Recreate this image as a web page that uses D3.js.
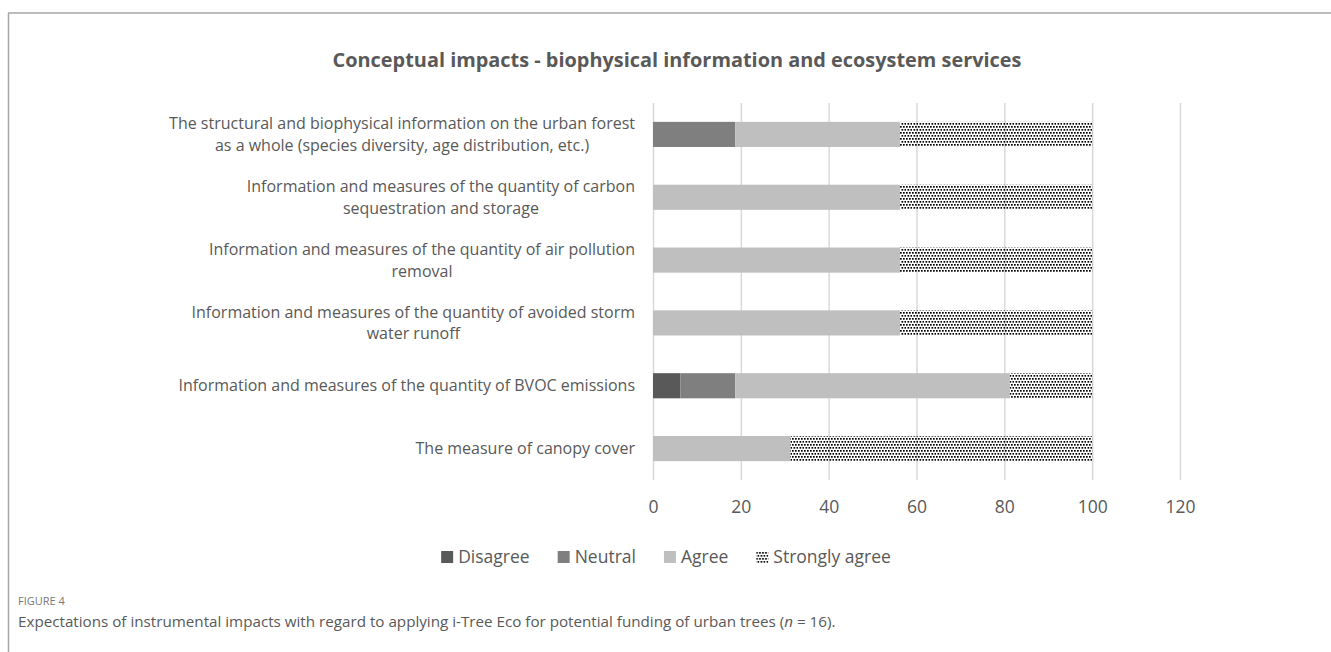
<!DOCTYPE html>
<html>
<head>
<meta charset="utf-8">
<script src="https://cdn.jsdelivr.net/npm/d3@7"></script>
<style>
  html, body { margin: 0; padding: 0; background: #fff; }
  svg { display: block; }
</style>
</head>
<body>
<svg id="chart" width="1331" height="652"></svg>
<script>
// data (percent of n = 16 respondents)
var categories = [
    ["The structural and biophysical information on the urban forest", "as a whole (species diversity, age distribution, etc.)"],
    ["Information and measures of the quantity of carbon", "sequestration and storage"],
    ["Information and measures of the quantity of air pollution", "removal"],
    ["Information and measures of the quantity of avoided storm", "water runoff"],
    ["Information and measures of the quantity of BVOC emissions"],
    ["The measure of canopy cover"]
];
var seriesNames = ["Disagree", "Neutral", "Agree", "Strongly agree"];
var disagree = [0, 0, 0, 0, 6.25, 0];
var neutral = [18.75, 0, 0, 0, 12.5, 0];
var agree = [37.5, 56.25, 56.25, 56.25, 62.5, 31.25];
var stronglyAgree = [43.75, 43.75, 43.75, 43.75, 18.75, 68.75];
var xTicks = [0, 20, 40, 60, 80, 100, 120];

var title = "Conceptual impacts - biophysical information and ecosystem services";
var figLabel = "FIGURE 4";
var caption = "Expectations of instrumental impacts with regard to applying i-Tree Eco for potential funding of urban trees (";

var textColor = "#595959";
var colors = ["#595959", "#7f7f7f", "#bfbfbf", "url(#dots)"];
var font = "'Open Sans', sans-serif";

var svg = d3.select("#chart");

// dotted fill for "Strongly agree"
var pat = svg.append("defs").append("pattern")
    .attr("id", "dots")
    .attr("patternUnits", "userSpaceOnUse")
    .attr("width", 6).attr("height", 6);
[[0, 0], [3, 0], [1.5, 3], [4.5, 3]].forEach(function (p) {
    pat.append("rect").attr("x", p[0]).attr("y", p[1])
        .attr("width", 1.7).attr("height", 1.7).attr("fill", "#000");
});

// frame lines of the page
svg.append("line").attr("x1", 8).attr("x2", 1331).attr("y1", 13).attr("y2", 13)
    .attr("stroke", "#a6a6a6").attr("stroke-width", 1.5);
svg.append("line").attr("x1", 8.5).attr("x2", 8.5).attr("y1", 13).attr("y2", 652)
    .attr("stroke", "#a6a6a6").attr("stroke-width", 1.5);

var x = d3.scaleLinear().domain([0, 120]).range([653, 1180]);
var y = d3.scaleBand().domain(d3.range(categories.length)).range([103, 480]).paddingInner(0.6).paddingOuter(0.3);

// gridlines + tick labels
var xAxis = d3.axisBottom(x).tickValues(xTicks).tickSize(-(480 - 103)).tickPadding(21);
var gx = svg.append("g").attr("transform", "translate(0,480)").call(xAxis);
gx.select(".domain").remove();
gx.selectAll(".tick line").attr("stroke", "#d9d9d9").attr("stroke-width", 1.5);
gx.selectAll(".tick text").attr("fill", textColor).style("font-family", font).style("font-size", "17.5px");

// stacked bars
var rows = categories.map(function (c, i) {
    return { i: i, disagree: disagree[i], neutral: neutral[i], agree: agree[i], strong: stronglyAgree[i] };
});
var stack = d3.stack().keys(["disagree", "neutral", "agree", "strong"]);
var layers = stack(rows);

svg.append("g").selectAll("g")
    .data(layers)
    .join("g")
    .attr("fill", function (d, k) { return colors[k]; })
    .selectAll("rect")
    .data(function (d) { return d.filter(function (s) { return s[1] > s[0]; }); })
    .join("rect")
    .attr("x", function (s) { return x(s[0]); })
    .attr("width", function (s) { return x(s[1]) - x(s[0]); })
    .attr("y", function (s) { return y(s.data.i); })
    .attr("height", y.bandwidth());

// category labels: lines centred on each other, block right-aligned
var labelRight = 635, lineH = 21.8;
var lab = svg.append("g").style("font-family", font).style("font-size", "16px").attr("fill", textColor);
categories.forEach(function (lines, i) {
    var t = lab.append("text").attr("text-anchor", "middle");
    var cy = y(i) + y.bandwidth() / 2 - (lines.length - 1) * lineH / 2;
    var w = 0;
    lines.forEach(function (ln, j) {
        var s = t.append("tspan").attr("x", 0).attr("y", cy + j * lineH).attr("dy", "0.35em").text(ln);
        w = Math.max(w, s.node().getComputedTextLength());
    });
    t.selectAll("tspan").attr("x", labelRight - w / 2);
});

// title
svg.append("text").attr("x", 677).attr("y", 67).attr("text-anchor", "middle")
    .style("font-family", font).style("font-size", "19.9px").style("font-weight", "bold")
    .attr("fill", textColor).text(title);

// legend, centred under the plot
var leg = svg.append("g").style("font-family", font).style("font-size", "17.5px").attr("fill", textColor);
var lx = 0;
seriesNames.forEach(function (name, k) {
    leg.append("rect").attr("x", lx).attr("y", 551).attr("width", 12).attr("height", 12).attr("fill", colors[k]);
    var t = leg.append("text").attr("x", lx + 17).attr("y", 557).attr("dy", "0.35em").text(name);
    lx += 17 + t.node().getComputedTextLength() + 28;
});
var legW = lx - 28;
leg.attr("transform", "translate(" + (666 - legW / 2) + ",0)");

// figure caption
svg.append("text").attr("x", 18).attr("y", 605)
    .style("font-family", font).style("font-size", "11px").attr("fill", "#777")
    .text(figLabel);
var cap = svg.append("text").attr("x", 18).attr("y", 627)
    .style("font-family", font).style("font-size", "15.2px").attr("fill", "#595959");
cap.append("tspan").text(caption);
cap.append("tspan").style("font-style", "italic").text("n");
cap.append("tspan").text(" = 16).");
</script>
</body>
</html>
